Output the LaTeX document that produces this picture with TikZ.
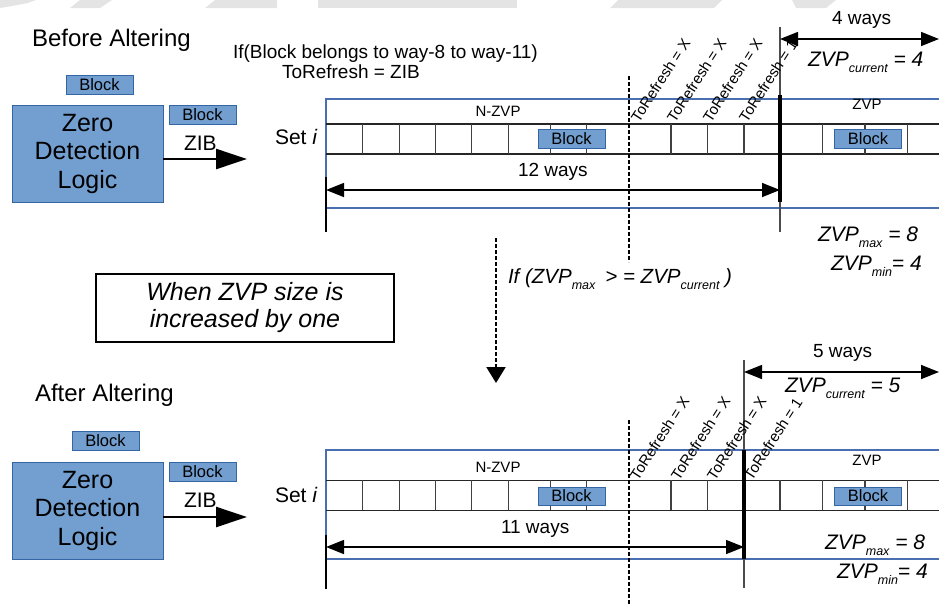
\documentclass[tikz,border=0pt]{standalone}
\usepackage{fontspec}
\setmainfont{Liberation Sans}
\usetikzlibrary{arrows.meta}

\definecolor{boxfill}{HTML}{729FCF}
\definecolor{boxline}{HTML}{3465A4}
\definecolor{setblue}{HTML}{4A6FB0}
\definecolor{wmark}{HTML}{E4E4E4}

\newcommand\fsz[2]{\fontsize{#1}{#2}\selectfont}
\newcommand\zsub[1]{\raisebox{-6pt}{\fsz{12.5}{14}#1}}

\begin{document}
\begin{tikzpicture}[x=1pt,y=-1pt,
  every node/.style={inner sep=0pt,outer sep=0pt},
  blockbox/.style={fill=boxfill,draw=boxline,line width=0.9pt,
    minimum width=67pt,minimum height=19pt,font=\fsz{16.5}{19}},
  logicbox/.style={fill=boxfill,draw=boxline,line width=1pt,
    minimum width=151pt,minimum height=97pt,align=center,font=\fsz{25}{28.5}},
  heading/.style={anchor=base west,font=\fsz{24}{29}},
  plain/.style={anchor=base west,font=\fsz{19}{23}},
  settext/.style={anchor=base west,font=\fsz{21}{25}},
  zvptext/.style={anchor=base west,font=\fsz{21}{25}\itshape},
  regiontext/.style={anchor=base,font=\fsz{15}{18}},
  waytext/.style={anchor=base west,font=\fsz{19}{23}},
  refresh/.style={anchor=base west,rotate=57,font=\fsz{15}{18}},
  setedge/.style={draw=setblue,line width=1.1pt},
  rowline/.style={draw=black!85,line width=1.2pt},
  cellline/.style={draw=black!75,line width=1.1pt},
  extline/.style={draw=black!70,line width=1.1pt},
  boundary/.style={draw=black,line width=3.2pt},
  dotline/.style={draw=black,line width=2pt,dash pattern=on 3.5pt off 2.5pt},
  dimarrow/.style={line width=1.5pt,
    {Triangle[length=18pt,width=14pt]}-{Triangle[length=18pt,width=14pt]}},
  zibarrow/.style={line width=2.5pt,-{Triangle[length=31pt,width=20pt]}},
  flowarrow/.style={line width=2.2pt,dash pattern=on 3.5pt off 2.5pt,
    -{Triangle[length=16pt,width=19pt]}},
  wm/.style={fill=wmark,draw=none}
]
\useasboundingbox (0,0) rectangle (939,605);

% faint band along the top edge
\fill[wm] (0,0) -- (36,0) -- (28,3) -- (12,6) -- (0,8) -- cycle;
\fill[wm] (70,8) -- (80,0) -- (112,0) -- (100,8) -- cycle;
\fill[wm] (205,8) -- (215,0) -- (277,0) -- (277,8) -- cycle;
\fill[wm] (318,0) rectangle (517,8);
\fill[wm] (610,8) -- (618,0) -- (722,0) -- (714,8) -- cycle;
\fill[wm] (796,8) -- (792,0) -- (836,0) -- (826,8) -- cycle;

% ================= before altering =================
\node[heading] (hdrA) at (32,46) {Before Altering};
\node[blockbox] (inA) at (99.5,84.5) {Block};
\node[logicbox] (zdlA) at (87.5,153.5) {Zero\\Detection\\Logic};
\node[blockbox] (outA) at (202.5,114.5) {Block};
\node[settext] (zibA) at (184,150) {ZIB};
\coordinate (zibtipA) at (247,159);
\draw[zibarrow] (zdlA.east |- zibtipA) -- (zibtipA);
\node[settext] (setA) at (275,144) {Set \textit{i}};

\node[plain] (condA) at (233,58) {If(Block belongs to way-8 to way-11)};
\node[plain] (condB) at (282,78) {ToRefresh = ZIB};

% set i, N-ZVP holds 12 ways
\draw[setedge] (939,99) -- (326,99) -- (326,208) -- (939,208);
\draw[rowline] (326,124) -- (939,124);
\draw[rowline] (326,154) -- (939,154);
\foreach \xx in {362.7,399.3,435.7,471.7,508.3,550.3,586.7,671,707.7,744,822.7,865,907.3}
  \draw[cellline] (\xx,124) -- (\xx,154);
\node[regiontext] (nzvpA) at (498,116) {N-ZVP};
\node[regiontext] (zvpA) at (867,109) {ZVP};
\node[blockbox] (blkA1) at (571.5,138.5) {Block};
\node[blockbox] (blkA2) at (868,138.5) {Block};

% region boundary and its extension lines
\coordinate (bndA1) at (780,27);
\coordinate (bndA2) at (780,232);
\draw[extline] (bndA1) -- (bndA2);
\draw[boundary] (780,95) -- (780,202);
\coordinate (leftA1) at (326,177);
\coordinate (leftA2) at (326,232);
\draw[extline,black] (leftA1) -- (leftA2);

\coordinate (dotA1) at (629,76);
\coordinate (dotA2) at (629,262);
\draw[dotline] (dotA1) -- (dotA2);

\node[refresh] (rA1) at (639,123) {ToRefresh = X};
\node[refresh] (rA2) at (675,123) {ToRefresh = X};
\node[refresh] (rA3) at (711,123) {ToRefresh = X};
\node[refresh] (rA4) at (747,123) {ToRefresh = 1};

\coordinate (wA1) at (326,190);
\coordinate (wA2) at (780,190);
\draw[dimarrow] (wA1) -- (wA2);
\node[waytext] (twelve) at (518,176) {12 ways};

\coordinate (zA1) at (780,39);
\coordinate (zA2) at (939,39);
\draw[dimarrow] (zA1) -- (zA2);
\node[waytext] (fourw) at (832,24) {4 ways};
\node[zvptext] (curA) at (808,66) {ZVP\zsub{current} = 4};
\node[zvptext] (maxA) at (818,241) {ZVP\zsub{max} = 8};
\node[zvptext] (minA) at (831,270) {ZVP\zsub{min}= 4};

% ================= transition =================
\coordinate (flow1) at (496,238);
\coordinate (flow2) at (496,383);
\draw[flowarrow] (flow1) -- (flow2);
\node[anchor=base west,font=\fsz{20.5}{24}\itshape] (cond) at (508,283)
  {If (ZVP\zsub{max}\hspace{10pt}> = ZVP\zsub{current} )};
\node[draw=black,line width=1.4pt,minimum width=298pt,minimum height=68pt,
  align=center,font=\fsz{25}{27}\itshape] (note) at (245,308)
  {When ZVP size is\\increased by one};

% ================= after altering =================
\node[heading] (hdrB) at (35,401) {After Altering};
\node[blockbox] (inB) at (105.5,441) {Block};
\node[logicbox] (zdlB) at (87.5,510.5) {Zero\\Detection\\Logic};
\node[blockbox] (outB) at (202.5,471.5) {Block};
\node[settext] (zibB) at (184,507) {ZIB};
\coordinate (zibtipB) at (247,517);
\draw[zibarrow] (zdlB.east |- zibtipB) -- (zibtipB);
\node[settext] (setB) at (275,502) {Set \textit{i}};

% set i, N-ZVP now holds 11 ways
\draw[setedge] (939,450) -- (326,450) -- (326,559) -- (939,559);
\draw[rowline] (326,480.3) -- (939,480.3);
\draw[rowline] (326,510.3) -- (939,510.3);
\foreach \xx in {362.7,399.3,435.7,471.7,508.3,550.3,586.7,671,707.7,780,822.7,865,907.3}
  \draw[cellline] (\xx,480.3) -- (\xx,510.3);
\node[regiontext] (nzvpB) at (498,472) {N-ZVP};
\node[regiontext] (zvpB) at (867,465) {ZVP};
\node[blockbox,minimum height=18pt] (blkB1) at (571.5,496) {Block};
\node[blockbox,minimum height=18pt] (blkB2) at (868,496) {Block};

\coordinate (bndB1) at (744,360);
\coordinate (bndB2) at (744,588);
\draw[extline] (bndB1) -- (bndB2);
\draw[boundary] (744,450) -- (744,559);
\coordinate (leftB1) at (326,535);
\coordinate (leftB2) at (326,589);
\draw[extline,black] (leftB1) -- (leftB2);

\coordinate (dotB1) at (629,420);
\coordinate (dotB2) at (629,605);
\draw[dotline] (dotB1) -- (dotB2);

\node[refresh] (rB1) at (638,481) {ToRefresh = X};
\node[refresh] (rB2) at (679,481) {ToRefresh = X};
\node[refresh] (rB3) at (715,481) {ToRefresh = X};
\node[refresh] (rB4) at (752,481) {ToRefresh = 1};

\coordinate (wB1) at (326,547);
\coordinate (wB2) at (744,547);
\draw[dimarrow] (wB1) -- (wB2);
\node[waytext] (eleven) at (501,533) {11 ways};

\coordinate (zB1) at (744,372);
\coordinate (zB2) at (939,372);
\draw[dimarrow] (zB1) -- (zB2);
\node[waytext] (fivew) at (813,357) {5 ways};
\node[zvptext] (curB) at (785,392) {ZVP\zsub{current} = 5};
\node[zvptext] (maxB) at (825,549) {ZVP\zsub{max} = 8};
\node[zvptext] (minB) at (837,578) {ZVP\zsub{min}= 4};
\end{tikzpicture}
\end{document}
